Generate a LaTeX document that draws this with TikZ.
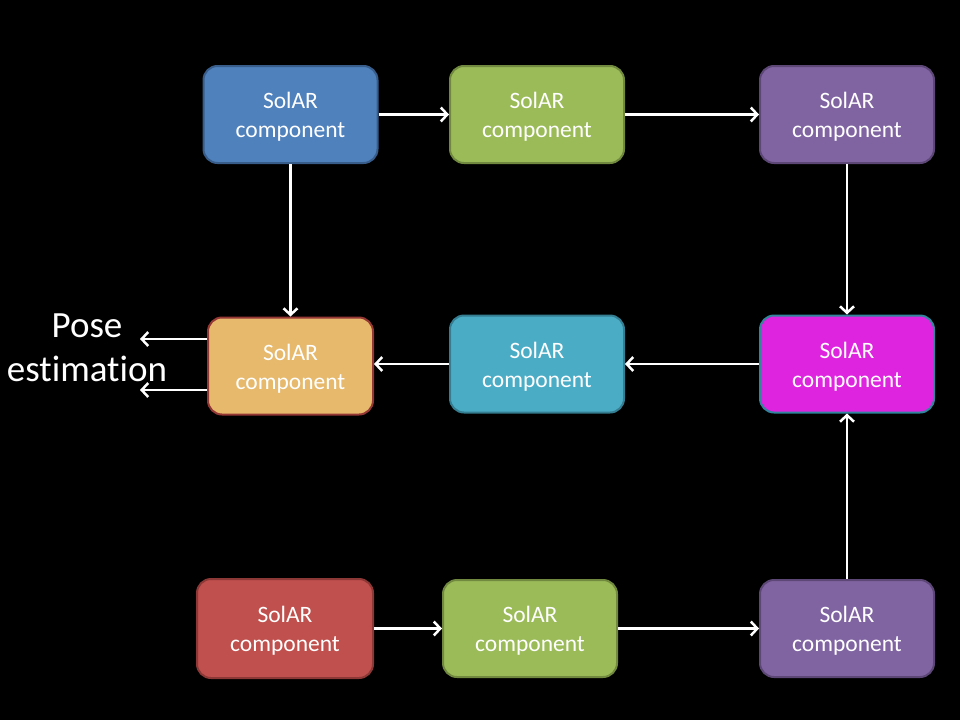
\documentclass[tikz,border=0pt]{standalone}
\usepackage{fontspec}
\setmainfont{Carlito}[Ligatures=NoCommon]
\usetikzlibrary{arrows.meta}
\definecolor{cblue}{HTML}{4F81BD}\definecolor{cbluel}{HTML}{385D8A}
\definecolor{cgreen}{HTML}{9BBB59}\definecolor{cgreenl}{HTML}{71893F}
\definecolor{cpurple}{HTML}{8064A2}\definecolor{cpurplel}{HTML}{5C4776}
\definecolor{corange}{HTML}{E6B96C}\definecolor{corangel}{HTML}{953735}
\definecolor{ccyan}{HTML}{4BACC6}\definecolor{ccyanl}{HTML}{357D91}
\definecolor{cmag}{HTML}{DF24DF}\definecolor{cmagl}{HTML}{31859C}
\definecolor{cred}{HTML}{C0504D}\definecolor{credl}{HTML}{8C3836}
\newcommand{\comptxt}{\rule{0pt}{21pt}SolAR\\component}
\begin{document}
\begin{tikzpicture}[x=1pt,y=-1pt,
  comp/.style={rectangle,rounded corners=14pt,line width=2pt,minimum width=174pt,minimum height=97pt,
    text=white,align=center,font=\fontsize{23.5}{29}\selectfont,inner sep=0pt},
  arr/.style={draw=white,line width=2.8pt,-{Straight Barb[length=6.5pt,width=14pt,line width=2.5pt]}}]
\fill[black] (0,0) rectangle (960,720);
\useasboundingbox (0,0) rectangle (960,720);
\node[comp,fill=cblue,draw=cbluel] (b1) at (290.5,114.5) {\comptxt};
\node[comp,fill=cgreen,draw=cgreenl] (g1) at (537,114.5) {\comptxt};
\node[comp,fill=cpurple,draw=cpurplel] (p1) at (847,114.5) {\comptxt};
\node[comp,fill=corange,draw=corangel,minimum width=165pt] (o2) at (290.5,366) {\comptxt};
\node[comp,fill=ccyan,draw=ccyanl] (c2) at (537,364) {\comptxt};
\node[comp,fill=cmag,draw=cmagl] (m2) at (847,364) {\comptxt};
\node[comp,fill=cred,draw=credl,minimum width=176pt,minimum height=99pt] (r3) at (285,628.5) {\comptxt};
\node[comp,fill=cgreen,draw=cgreenl] (g3) at (530,628.5) {\comptxt};
\node[comp,fill=cpurple,draw=cpurplel] (p3) at (847,628.5) {\comptxt};
\node[text=white,align=center,font=\fontsize{37}{44}\selectfont,inner sep=0pt] (pose) at (87,348) {Pose\\estimation};
\coordinate (e1) at (140,339);
\coordinate (e2) at (140,390);
\draw[arr] (b1.east) -- (g1.west);
\draw[arr] (g1.east) -- (p1.west);
\draw[arr] (b1.south) -- (o2.north);
\draw[arr] (p1.south) -- (m2.north);
\draw[arr] (m2.west) -- (c2.east);
\draw[arr] (c2.west) -- (c2.west -| o2.east);
\draw[arr] (o2.west |- e1) -- (e1);
\draw[arr] (o2.west |- e2) -- (e2);
\draw[arr] (r3.east) -- (g3.west);
\draw[arr] (g3.east) -- (p3.west);
\draw[arr] (p3.north) -- (m2.south);
\end{tikzpicture}
\end{document}
